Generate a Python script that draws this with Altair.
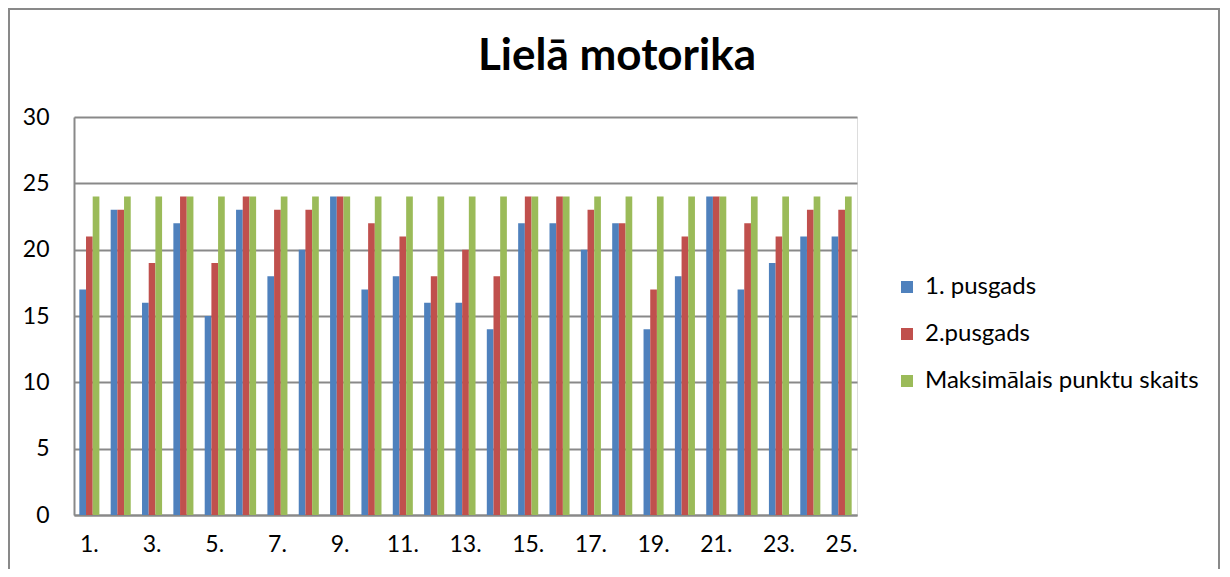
import altair as alt
import pandas as pd

categories = [f"{i}." for i in range(1, 26)]
series_names = ["1. pusgads", "2.pusgads", "Maksimālais punktu skaits"]
pusgads1 = [17, 23, 16, 22, 15, 23, 18, 20, 24, 17, 18, 16, 16, 14, 22, 22, 20, 22, 14, 18, 24, 17, 19, 21, 21]
pusgads2 = [21, 23, 19, 24, 19, 24, 23, 23, 24, 22, 21, 18, 20, 18, 24, 24, 23, 22, 17, 21, 24, 22, 21, 23, 23]
maks = [24] * 25
colors = ["#4F81BD", "#C0504D", "#9BBB59"]
y_ticks = [0, 5, 10, 15, 20, 25, 30]
x_label_values = categories[::2]
title_text = "Lielā motorika"

rows = []
for name, vals in zip(series_names, [pusgads1, pusgads2, maks]):
    for c, v in zip(categories, vals):
        rows.append({"kat": c, "serija": name, "vertiba": v})
df = pd.DataFrame(rows)

W, H = 783, 398
PL, PT, PR, PB = 66, 109, 363, 54
FONT = "Lato"

bars = alt.Chart(df).mark_bar(stroke=None).encode(
    x=alt.X("kat:N", sort=categories,
            scale=alt.Scale(paddingInner=0.36, paddingOuter=0.17),
            axis=alt.Axis(title=None, values=x_label_values, labelAngle=0, ticks=False,
                          labelPadding=18, labelFontSize=23, labelFont=FONT, labelColor="#000000",
                          domainColor="#898989", domainWidth=2, grid=False)),
    xOffset=alt.XOffset("serija:N", sort=series_names, scale=alt.Scale(paddingInner=0, paddingOuter=0)),
    y=alt.Y("vertiba:Q", scale=alt.Scale(domain=[0, 30], nice=False),
            axis=alt.Axis(title=None, values=y_ticks, ticks=False, labelPadding=25,
                          labelFontSize=23, labelFont=FONT, labelColor="#000000",
                          domainColor="#898989", domainWidth=2,
                          gridColor="#898989", gridWidth=2)),
    color=alt.Color("serija:N", sort=series_names,
                    scale=alt.Scale(domain=series_names, range=colors),
                    legend=alt.Legend(title=None, orient="none", legendX=821, legendY=158,
                                      symbolType="square", symbolSize=144, symbolStrokeWidth=0,
                                      labelFontSize=24, labelFont=FONT, labelColor="#000000",
                                      labelOffset=6, rowPadding=23, padding=0, labelLimit=500)),
)

frame_df = pd.DataFrame({"t": [title_text]})
border = alt.Chart(frame_df).mark_rect(fill=None, stroke="#898989", strokeWidth=2).encode(
    x=alt.value(-PL + 1), x2=alt.value(W + PR - 1),
    y=alt.value(-PT + 1), y2=alt.value(H + PB + 10),
)
title = alt.Chart(frame_df).mark_text(fontSize=44, fontWeight="bold", font=FONT, color="#000000",
                                      align="center", baseline="alphabetic").encode(
    text="t:N", x=alt.value(543), y=alt.value(-47),
)

chart = alt.layer(bars, border, title).properties(
    width=W, height=H,
    autosize=alt.AutoSizeParams(type="none"),
    padding={"left": PL, "top": PT, "right": PR, "bottom": PB},
).configure_view(stroke=None).configure(background="#ffffff")

chart.save("out.html", embed_options={"renderer": "svg", "actions": False})
